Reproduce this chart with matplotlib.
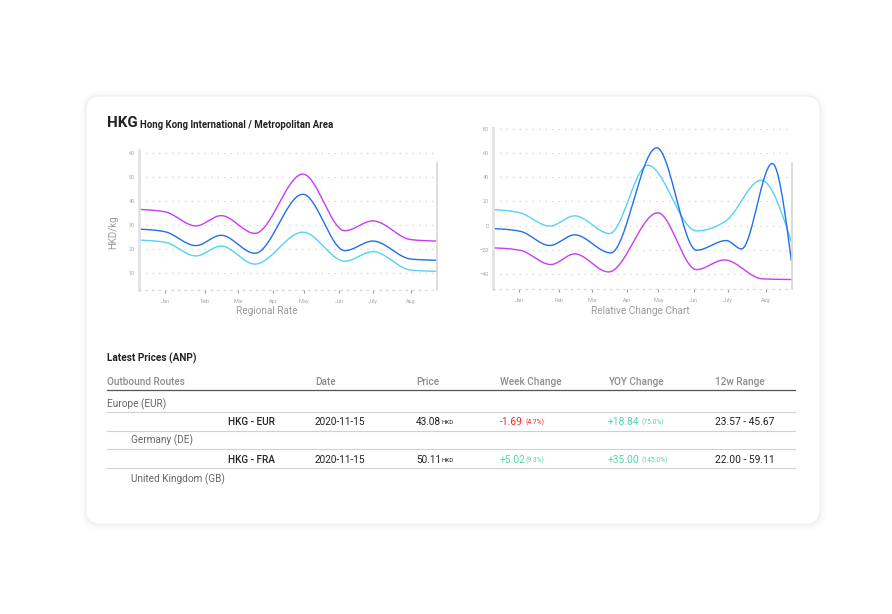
import numpy as np
import matplotlib
matplotlib.use("Agg")
import matplotlib.pyplot as plt
from matplotlib.patches import FancyBboxPatch

plt.rcParams['font.family'] = ['Roboto', 'DejaVu Sans']

W, H = 892, 614

# ---- data (x in month units) ----
MONTHS = ["Jan", "Feb", "Mar", "Apr", "May", "Jun", "July", "Aug"]
MONTH_POS = [0.75, 1.91, 2.87, 3.88, 4.78, 5.80, 6.78, 7.88]

RATE_X = [0.0, 0.75, 1.65, 2.38, 3.36, 4.75, 5.97, 6.78, 7.88, 8.61]
RATE_PURPLE = [36.5, 35.5, 29.6, 33.9, 26.5, 51.2, 27.6, 31.7, 23.9, 23.3]
RATE_BLUE = [28.3, 27.2, 21.4, 25.7, 18.2, 42.8, 19.3, 23.3, 15.8, 15.3]
RATE_CYAN = [23.7, 22.8, 17.1, 21.2, 13.7, 27.0, 14.9, 18.9, 11.2, 10.7]

REL_CYAN_X = [0.0, 0.78, 1.64, 2.36, 3.37, 4.47, 5.88, 6.74, 7.75, 8.62]
REL_CYAN = [13.2, 10.5, -0.5, 8.0, -6.6, 49.8, -4.4, 4.1, 37.4, -13.0]
REL_BLUE_X = [0.0, 0.78, 1.64, 2.36, 3.40, 4.73, 5.88, 6.74, 7.18, 8.07, 8.62]
REL_BLUE = [-2.5, -4.7, -16.5, -7.7, -22.6, 64.2, -20.4, -12.4, -19.3, 51.2, -28.7]
REL_PURPLE_X = [0.0, 0.78, 1.67, 2.36, 3.34, 4.76, 5.88, 6.69, 7.78, 8.62]
REL_PURPLE = [-18.4, -20.4, -32.2, -23.4, -38.3, 10.5, -36.4, -28.4, -44.0, -44.6]

COLUMNS = ["Outbound Routes", "Date", "Price", "Week Change", "YOY Change", "12w Range"]
GROUPS = ["Europe (EUR)", "Germany (DE)", "United Kingdom (GB)"]
ROUTES = ["HKG - EUR", "HKG - FRA"]
DATES = ["2020-11-15", "2020-11-15"]
PRICES = ["43.08", "50.11"]
WEEK_CHG = ["-1.69", "+5.02"]
WEEK_PCT = ["(4.7%)", "(9.3%)"]
YOY_CHG = ["+18.84", "+35.00"]
YOY_PCT = ["(75.0%)", "(145.0%)"]
RANGES = ["23.57 - 45.67", "22.00 - 59.11"]

PURPLE = "#c93cf0"
BLUE = "#1f6fee"
CYAN = "#55d2f4"
RED = "#ff2020"
GREEN = "#4fd6a2"
FS = 7.2


def monotone(x, y, n=40):
    # monotone cubic (like d3 curveMonotoneX)
    x = np.asarray(x, float)
    y = np.asarray(y, float)
    h = np.diff(x)
    s = np.diff(y) / h
    t = np.zeros_like(y)
    for i in range(1, len(x) - 1):
        h0, h1, s0, s1 = h[i - 1], h[i], s[i - 1], s[i]
        p = (s0 * h1 + s1 * h0) / (h0 + h1)
        t[i] = (np.sign(s0) + np.sign(s1)) * min(abs(s0), abs(s1), 0.5 * abs(p))
    t[0] = (3 * s[0] - t[1]) / 2
    t[-1] = (3 * s[-1] - t[-2]) / 2
    xs, ys = [], []
    for i in range(len(x) - 1):
        u = np.linspace(0, 1, n)
        h00 = 2 * u**3 - 3 * u**2 + 1
        h10 = u**3 - 2 * u**2 + u
        h01 = -2 * u**3 + 3 * u**2
        h11 = u**3 - u**2
        xs.append(x[i] + u * h[i])
        ys.append(h00 * y[i] + h10 * h[i] * t[i] + h01 * y[i + 1] + h11 * h[i] * t[i + 1])
    return np.concatenate(xs), np.concatenate(ys)


def px_axes(fig, x0, y0, x1, y1):
    return fig.add_axes([x0 / W, 1 - y1 / H, (x1 - x0) / W, (y1 - y0) / H])


def style_chart(ax, ylim, yticks, right_top):
    ax.set_facecolor("none")
    ax.set_xlim(0, 8.64)
    ax.set_ylim(*ylim)
    ax.set_yticks(yticks)
    ax.set_xticks(MONTH_POS)
    ax.set_xticklabels(MONTHS)
    ax.grid(axis="y", color="#d8d8d8", linestyle=(0, (1.2, 4)), linewidth=0.9)
    ax.set_axisbelow(True)
    ax.spines["top"].set_visible(False)
    ax.spines["left"].set_color("#e2e2e2")
    ax.spines["left"].set_linewidth(2)
    ax.spines["right"].set_color("#d6d6d6")
    ax.spines["right"].set_linewidth(1.2)
    ax.spines["right"].set_bounds(ylim[0], right_top)
    ax.spines["bottom"].set_color("#d8d8d8")
    ax.spines["bottom"].set_linestyle((0, (1.2, 4)))
    ax.spines["bottom"].set_linewidth(0.9)
    ax.tick_params(axis="y", length=0, pad=3, labelsize=4, labelcolor="#a8a8a8")
    ax.tick_params(axis="x", length=2.5, width=0.8, color="#9a9a9a", pad=4,
                   labelsize=4, labelcolor="#a8a8a8")


fig = plt.figure(figsize=(W / 100, H / 100), dpi=100)
fig.patch.set_facecolor("white")

bg = fig.add_axes([0, 0, 1, 1])
bg.set_xlim(0, W)
bg.set_ylim(H, 0)
bg.axis("off")

# card with soft shadow
for k, a in [(6, 0.008), (4, 0.012), (2, 0.02)]:
    bg.add_patch(FancyBboxPatch((86 - k, 96 - k + 1), 734 + 2 * k, 428 + 2 * k,
                                boxstyle="round,pad=0,rounding_size=%d" % (14 + k),
                                facecolor="black", edgecolor="none", alpha=a))
bg.add_patch(FancyBboxPatch((86, 96), 734, 428, boxstyle="round,pad=0,rounding_size=14",
                            facecolor="white", edgecolor="#f0f0f0", linewidth=0.8))

# title
bg.text(107, 123, "HKG", fontsize=10.8, fontweight="bold", color="#222222", va="center")
bg.text(140, 124.5, "Hong Kong International / Metropolitan Area", fontsize=6.9,
        fontweight="bold", color="#222222", va="center")

# left chart
ax1 = px_axes(fig, 139, 150, 437, 290)
style_chart(ax1, (2.9, 61.25), [10, 20, 30, 40, 50, 60], 55.8)
for ys, c in [(RATE_PURPLE, PURPLE), (RATE_BLUE, BLUE), (RATE_CYAN, CYAN)]:
    xs, yy = monotone(RATE_X, ys)
    ax1.plot(xs, yy, color=c, linewidth=1.0, solid_capstyle="round")
bg.text(113, 232, "HKD/kg", rotation=90, fontsize=7, color="#9a9a9a",
        ha="center", va="center")
bg.text(267, 311, "Regional Rate", fontsize=7.2, color="#9a9a9a", ha="center", va="center")

# right chart
ax2 = px_axes(fig, 493, 128, 792, 289)
style_chart(ax2, (-52.4, 80.5), [-40, -20, 0, 20, 40, 60, 80], 51.7)
for xv, ys, c in [(REL_CYAN_X, REL_CYAN, CYAN), (REL_BLUE_X, REL_BLUE, BLUE),
                  (REL_PURPLE_X, REL_PURPLE, PURPLE)]:
    xs, yy = monotone(xv, ys)
    ax2.plot(xs, yy, color=c, linewidth=1.0, solid_capstyle="round")
bg.text(640, 311, "Relative Change Chart", fontsize=7.2, color="#9a9a9a",
        ha="center", va="center")

# table
bg.text(107, 358, "Latest Prices (ANP)", fontsize=FS, fontweight="bold",
        color="#222222", va="center")
col_x = [107, 315, 416, 500, 608, 715]
for cx, name in zip(col_x, COLUMNS):
    bg.text(cx, 382, name, fontsize=FS, fontweight="medium", color="#8c8c8c", va="center")
bg.plot([107, 795], [390, 390], color="#555555", linewidth=0.9)
for yl in [412, 431, 449, 468]:
    bg.plot([107, 795], [yl, yl], color="#d0d0d0", linewidth=0.8)

group_pos = [(107, 404), (131, 440), (131, 479)]
for (gx, gy), g in zip(group_pos, GROUPS):
    bg.text(gx, gy, g, fontsize=FS, color="#666666", va="center")

for i, ry in enumerate([422, 460]):
    bg.text(228, ry, ROUTES[i], fontsize=FS, fontweight="medium", color="#222222", va="center")
    bg.text(315, ry, DATES[i], fontsize=FS, color="#222222", va="center")
    bg.text(416, ry, PRICES[i], fontsize=FS, color="#222222", va="center")
    bg.text(441.5, ry + 0.5, "HKD", fontsize=4.5, color="#222222", va="center")
    wc = RED if WEEK_CHG[i].startswith("-") else GREEN
    bg.text(500, ry, WEEK_CHG[i], fontsize=7.4, color=wc, va="center")
    bg.text(526, ry + 0.5, WEEK_PCT[i], fontsize=4.9, color=wc, va="center")
    bg.text(608, ry, YOY_CHG[i], fontsize=7.4, color=GREEN, va="center")
    bg.text(642, ry + 0.5, YOY_PCT[i], fontsize=4.9, color=GREEN, va="center")
    bg.text(715, ry, RANGES[i], fontsize=7.4, color="#222222", va="center")

fig.savefig("out.png", dpi=100, facecolor="white")
